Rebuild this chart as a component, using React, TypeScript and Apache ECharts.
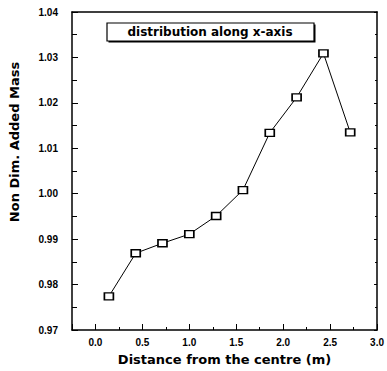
import React, { useEffect, useRef } from "react";
import * as echarts from "echarts";

const xValues = [0.143, 0.429, 0.714, 1.0, 1.286, 1.571, 1.857, 2.143, 2.429, 2.714];
const yValues = [0.9774, 0.9869, 0.9891, 0.9911, 0.9951, 1.0008, 1.0134, 1.0212, 1.0309, 1.0135];
const legendText = "distribution along x-axis";
const xName = "Distance from the centre (m)";
const yName = "Non Dim. Added Mass";

const labelFont = "Liberation Sans";
const nameFont = "DejaVu Sans";

export default function App() {
  const ref = useRef<HTMLDivElement>(null);
  useEffect(() => {
    if (!ref.current) return;
    const chart = echarts.init(ref.current, null, { renderer: "svg" });
    const data = xValues.map((x, i) => [x, yValues[i]]);
    chart.setOption({
      animation: false,
      backgroundColor: "#ffffff",
      grid: { left: 72, right: 7, top: 12, bottom: 39, containLabel: false },
      xAxis: [
        {
          type: "value",
          min: -0.25,
          max: 3.0,
          splitNumber: 6,
          position: "bottom",
          axisLine: { show: true, onZero: false, lineStyle: { color: "#000", width: 1.5 } },
          axisTick: { show: true, inside: true, length: 6, lineStyle: { color: "#000", width: 1 } },
          minorTick: { show: true, splitNumber: 2, length: 3, lineStyle: { color: "#000", width: 1 } },
          splitLine: { show: false },
          axisLabel: {
            showMinLabel: false,
            margin: 7,
            color: "#000",
            fontFamily: labelFont,
            fontWeight: "bold",
            fontSize: 10,
            formatter: (v: number) => v.toFixed(1),
          },
          name: xName,
          nameLocation: "middle",
          nameGap: 23,
          nameTextStyle: { color: "#000", fontFamily: nameFont, fontWeight: "bold", fontSize: 13 },
        },
        {
          type: "value",
          min: -0.25,
          max: 3.0,
          position: "top",
          axisLine: { show: true, onZero: false, lineStyle: { color: "#000", width: 1.5 } },
          axisTick: { show: false },
          axisLabel: { show: false },
          splitLine: { show: false },
        },
      ],
      yAxis: [
        {
          type: "value",
          min: 0.97,
          max: 1.04,
          interval: 0.01,
          position: "left",
          axisLine: { show: true, onZero: false, lineStyle: { color: "#000", width: 1.5 } },
          axisTick: { show: true, inside: true, length: 6, lineStyle: { color: "#000", width: 1 } },
          minorTick: { show: true, splitNumber: 2, length: 5, lineStyle: { color: "#000", width: 1 } },
          splitLine: { show: false },
          axisLabel: {
            margin: 14,
            color: "#000",
            fontFamily: labelFont,
            fontWeight: "bold",
            fontSize: 10,
            formatter: (v: number) => v.toFixed(2),
          },
        },
        {
          type: "value",
          min: 0.97,
          max: 1.04,
          interval: 0.01,
          position: "right",
          axisLine: { show: true, onZero: false, lineStyle: { color: "#000", width: 1.5 } },
          axisTick: { show: true, inside: true, length: 3, lineStyle: { color: "#000", width: 1 } },
          minorTick: { show: true, splitNumber: 2, length: 2, lineStyle: { color: "#000", width: 1 } },
          axisLabel: { show: false },
          splitLine: { show: false },
        },
      ],
      series: [
        {
          type: "line",
          data,
          xAxisIndex: 0,
          yAxisIndex: 0,
          symbol: "rect",
          symbolSize: [9, 7],
          showAllSymbol: true,
          itemStyle: { color: "#fff", borderColor: "#000", borderWidth: 1.5 },
          lineStyle: { color: "#000", width: 1 },
          z: 3,
        },
      ],
      graphic: [
        {
          type: "rect",
          shape: { x: 108.5, y: 24.5, width: 207, height: 18 },
          style: { fill: "#000" },
          z: 10,
        },
        {
          type: "rect",
          shape: { x: 107, y: 23, width: 207, height: 18 },
          style: { fill: "#fff", stroke: "#000", lineWidth: 1.2 },
          z: 11,
        },
        {
          type: "text",
          x: 210,
          y: 32,
          style: {
            text: legendText,
            fill: "#000",
            font: `bold 12px "${nameFont}"`,
            align: "center",
            verticalAlign: "middle",
          },
          z: 12,
        },
        {
          type: "text",
          x: 14,
          y: 142,
          rotation: Math.PI / 2,
          style: {
            text: yName,
            fill: "#000",
            font: `bold 13px "${nameFont}"`,
            align: "center",
            verticalAlign: "middle",
          },
          z: 12,
        },
      ],
    });
    return () => chart.dispose();
  }, []);
  return (
    <div
      ref={ref}
      style={{ position: "fixed", left: 0, top: 0, width: 387, height: 371, background: "#fff" }}
    />
  );
}
